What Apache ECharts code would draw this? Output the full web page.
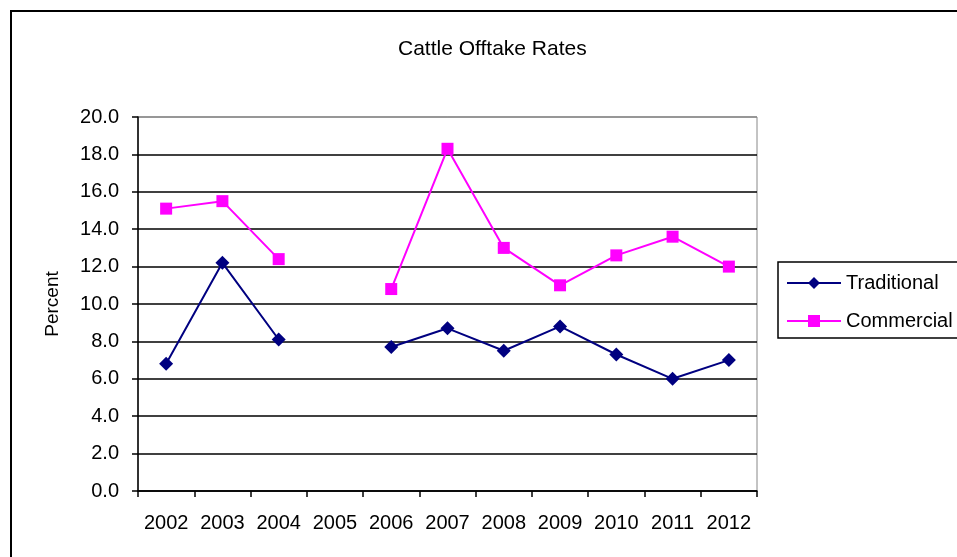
<!DOCTYPE html>
<html>
<head>
<meta charset="utf-8">
<script src="https://cdn.jsdelivr.net/npm/echarts@6/dist/echarts.min.js"></script>
<style>
  html, body { margin: 0; padding: 0; background: #fff; }
  #chart { width: 957px; height: 557px; }
</style>
</head>
<body>
<div id="chart"></div>
<script>
var years = ['2002', '2003', '2004', '2005', '2006', '2007', '2008', '2009', '2010', '2011', '2012'];
var traditional = [6.8, 12.2, 8.1, null, 7.7, 8.7, 7.5, 8.8, 7.3, 6.0, 7.0];
var commercial = [15.1, 15.5, 12.4, null, 10.8, 18.3, 13.0, 11.0, 12.6, 13.6, 12.0];
var yTicks = [0, 2, 4, 6, 8, 10, 12, 14, 16, 18, 20];

var font = 'Liberation Sans, Arial, sans-serif';
var gridColors = yTicks.map(function (v) { return v === 20 ? '#888' : '#000'; });

var myChart = echarts.init(document.getElementById('chart'));
myChart.setOption({
  animation: false,
  title: {
    text: 'Cattle Offtake Rates',
    left: 393,
    top: 34,
    textStyle: { fontFamily: font, fontSize: 21, fontWeight: 'normal', color: '#000' }
  },
  legend: {
    left: 778,
    top: 262,
    orient: 'vertical',
    itemGap: 18,
    itemWidth: 54,
    itemHeight: 15,
    padding: [11, 20, 7, 8],
    borderColor: '#000',
    borderWidth: 1.5,
    textStyle: { fontFamily: font, fontSize: 20, color: '#000', lineHeight: 20 },
    data: ['Traditional', 'Commercial']
  },
  grid: {
    left: 138, right: 200, top: 117, bottom: 66,
    show: true, borderColor: '#888', borderWidth: 1
  },
  xAxis: {
    type: 'category',
    data: years,
    boundaryGap: true,
    axisLine: { lineStyle: { color: '#000', width: 1.5 } },
    axisTick: { show: true, interval: 0, inside: false, length: 6, alignWithLabel: false, lineStyle: { color: '#000', width: 1.5 } },
    axisLabel: { interval: 0, fontFamily: font, fontSize: 20, color: '#000', margin: 22 }
  },
  yAxis: {
    type: 'value',
    min: 0, max: 20, interval: 2,
    name: 'Percent',
    nameLocation: 'middle',
    nameGap: 76,
    nameRotate: 90,
    nameTextStyle: { fontFamily: font, fontSize: 19, color: '#000' },
    axisLine: { show: true, lineStyle: { color: '#000', width: 1.5 } },
    axisTick: { show: true, length: 6, lineStyle: { color: '#000', width: 1.5 } },
    axisLabel: {
      fontFamily: font, fontSize: 20, color: '#000', margin: 19,
      formatter: function (v) { return v.toFixed(1); }
    },
    splitLine: { show: true, lineStyle: { color: gridColors, width: 1.5 } }
  },
  graphic: [{
    type: 'rect',
    shape: { x: 11, y: 11, width: 980, height: 580 },
    style: { fill: 'none', stroke: '#000', lineWidth: 2 },
    silent: true
  }],
  series: [{
    name: 'Traditional',
    type: 'line',
    data: traditional,
    connectNulls: false,
    symbol: 'diamond',
    symbolSize: 14,
    lineStyle: { color: '#000080', width: 2 },
    itemStyle: { color: '#000080' }
  }, {
    name: 'Commercial',
    type: 'line',
    data: commercial,
    connectNulls: false,
    symbol: 'rect',
    symbolSize: 12,
    lineStyle: { color: '#FF00FF', width: 2 },
    itemStyle: { color: '#FF00FF' }
  }]
});
</script>
</body>
</html>
